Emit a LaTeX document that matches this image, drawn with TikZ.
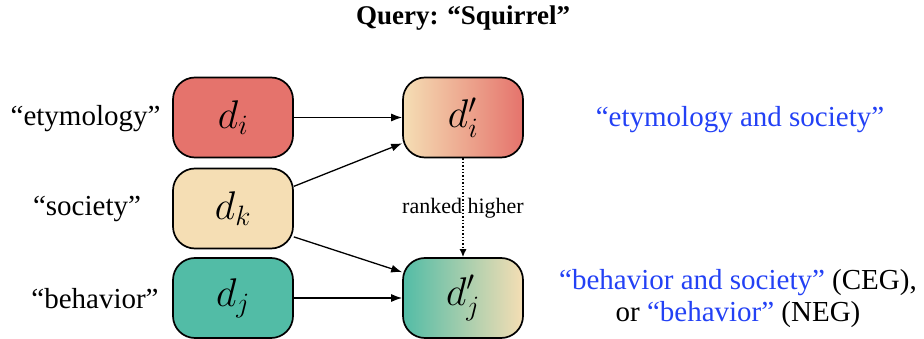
\RequirePackage{fix-cm}
\documentclass[tikz,border=0pt]{standalone}
\usepackage{fontspec}
\setmainfont{Liberation Serif}
\usetikzlibrary{arrows.meta}
\definecolor{cred}{RGB}{229,115,108}
\definecolor{cbeige}{RGB}{245,222,180}
\definecolor{cteal}{RGB}{82,188,166}
\definecolor{cblue}{RGB}{35,65,245}
\tikzset{
  docbox/.style={draw=black, line width=1.7pt, rounded corners=22pt, minimum width=120pt, minimum height=80pt, inner sep=0pt, font=\fontsize{40}{44}\selectfont},
  lbl/.style={font=\fontsize{29}{32}\selectfont},
  conn/.style={line width=1.3pt, -{Latex[length=11pt,width=8pt]}},
}
\begin{document}
\begin{tikzpicture}[x=1pt,y=-1pt]
\useasboundingbox (0,0) rectangle (924,339);
\node[font=\bfseries\fontsize{27}{30}\selectfont] (title) at (463,18) {Query: “Squirrel”};
\node[docbox, fill=cred] (di) at (233,117.5) {$d_i$};
\node[docbox, fill=cbeige] (dk) at (233,208.5) {$d_k$};
\node[docbox, fill=cteal] (dj) at (233,298) {$d_j$};
\node[docbox, left color=cbeige, right color=cred] (dip) at (463,117.5) {$d_i'$};
\node[docbox, left color=cteal, right color=cbeige] (djp) at (463,298) {$d_j'$};
\node[lbl, anchor=east] (le) at (164,119) {“etymology”};
\node[lbl] (ls) at (87,209) {“society”};
\node[lbl] (lb) at (95,299) {“behavior”};
\node[lbl, text=cblue] (re) at (740,120) {“etymology and society”};
\node[lbl, align=center] (rb) at (738,299) {\textcolor{cblue}{“behavior and society”} (CEG),\\ or \textcolor{cblue}{“behavior”} (NEG)};
\draw[conn] (di.east) -- (dip.west);
\draw[conn] (dk.20) -- (dip.203);
\draw[conn] (dk.-25) -- (djp.157);
\draw[conn] (dj.east) -- (djp.west);
\draw[line width=1.4pt, dotted, -{Latex[length=8pt,width=7pt]}] (dip.south) -- (djp.north) node[midway, font=\fontsize{22}{24}\selectfont] (rh) {ranked higher};
\end{tikzpicture}
\end{document}
